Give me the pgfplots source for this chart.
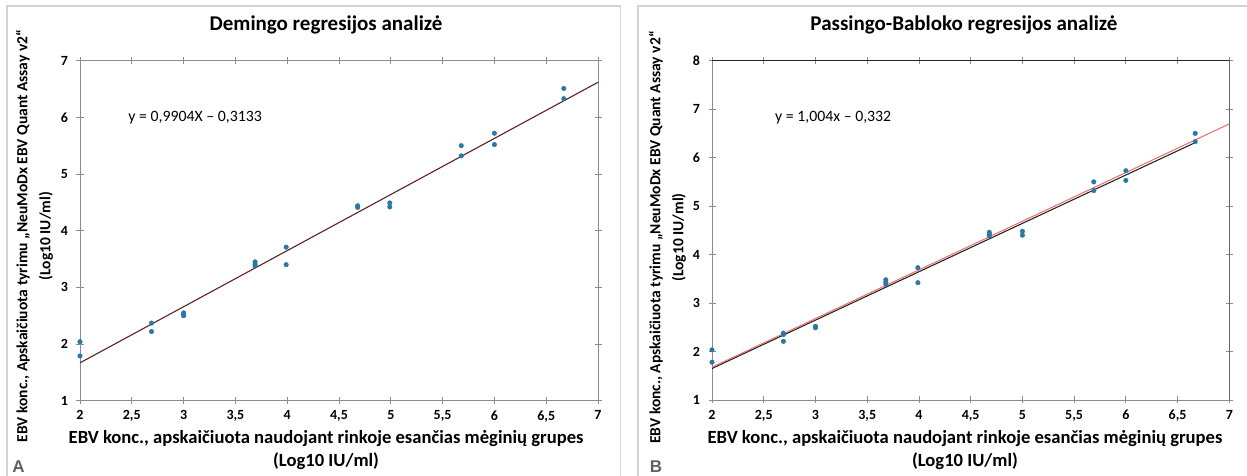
\documentclass[border=0pt]{standalone}
\usepackage{fontspec}
\setmainfont{Carlito}
\newfontfamily\letterfont{Liberation Sans}
\usepackage{pgfplots}
\pgfplotsset{compat=1.18}
\definecolor{dotblue}{RGB}{43,120,165}
\definecolor{deming}{RGB}{95,32,32}
\definecolor{pbred}{RGB}{240,105,105}
\definecolor{axgray}{RGB}{140,140,140}
\definecolor{panelgray}{RGB}{210,210,210}
\pgfplotsset{
  common/.style={
    scale only axis,
    anchor=south west,
    xmin=2, xmax=7,
    xtick={2,2.5,...,7},
    /pgf/number format/assume math mode=true,
    /pgf/number format/use comma,
    tick label style={font=\bfseries\fontsize{14}{14}\selectfont},
    yticklabel style={xshift=-5pt},
    xticklabel style={yshift=-3pt},
    tick align=center,
    major tick length=7pt,
    tick style={axgray, line width=0.8pt},
    axis line style={axgray, line width=0.9pt},
    title style={font=\bfseries\fontsize{21}{24}\selectfont, anchor=center},
    xlabel style={font=\bfseries\fontsize{18.6}{23}\selectfont, align=center, anchor=center},
    ylabel style={font=\bfseries\fontsize{15.5}{23}\selectfont, align=center, anchor=center},
    xlabel={EBV konc., apskaičiuota naudojant rinkoje esančias mėginių grupes\\(Log10 IU/ml)},
    ylabel={EBV konc., Apskaičiuota tyrimu „NeuMoDx EBV Quant Assay v2“\\(Log10 IU/ml)},
  },
  dots/.style={only marks, mark=*, mark size=2.3pt, color=dotblue, mark options={draw=dotblue, fill=dotblue}},
}
\begin{document}
\begin{tikzpicture}
\path[use as bounding box] (0pt,0pt) rectangle (1247pt,476pt);
\draw[panelgray, line width=1.2pt] (7pt,-5pt) -- (7pt,470pt) -- (620.7pt,470pt) -- (620.7pt,-5pt);
\draw[panelgray, line width=1.2pt] (638pt,-5pt) -- (638pt,470pt) -- (1255pt,470pt);
\node[font=\letterfont\bfseries\fontsize{17}{17}\selectfont, text=black!62] at (18.5pt,9.5pt) {A};
\node[font=\letterfont\bfseries\fontsize{17}{17}\selectfont, text=black!62] at (656pt,9.5pt) {B};

% Left panel: Deming
\begin{axis}[common,
  at={(80pt,75.3pt)}, width=518pt, height=340pt,
  ymin=1, ymax=7, ytick={1,2,...,7},
  title={Demingo regresijos analizė},
  title style={at={(axis description cs:0.475,1)}, yshift=29.7pt},
  xlabel style={at={(axis description cs:0.475,0)}, yshift=-49.8pt},
  ylabel style={at={(axis description cs:-0.0878,0.484)}},
]
\addplot[color=deming, line width=1.1pt] coordinates {(2,1.668) (7,6.619)};
\addplot[dots] coordinates {
(2,2.04) (2,1.79)
(2.69,2.37) (2.69,2.22)
(3,2.55) (3,2.52) (3,2.50)
(3.69,3.45) (3.69,3.41) (3.69,3.38)
(3.99,3.71) (3.99,3.40)
(4.68,4.44) (4.68,4.41)
(4.99,4.49) (4.99,4.42)
(5.68,5.50) (5.68,5.32)
(6,5.72) (6,5.52)
(6.67,6.51) (6.67,6.33)
};
\node[anchor=west, font=\fontsize{15.8}{18}\selectfont] at (axis cs:2.434,6.0) {y = 0,9904X – 0,3133};
\end{axis}

% Right panel: Passing-Bablok
\begin{axis}[common,
  at={(712pt,76pt)}, width=517.3pt, height=339.3pt,
  ymin=1, ymax=8, ytick={1,2,...,8},
  title={Passingo-Babloko regresijos analizė},
  title style={at={(axis description cs:0.487,1)}, yshift=29.7pt},
  xlabel style={at={(axis description cs:0.489,0)}, yshift=-49.8pt},
  ylabel style={at={(axis description cs:-0.086,0.479)}},
]
\addplot[color=black!85, line width=1.1pt] coordinates {(2,1.65) (6.67,6.31)};
\addplot[color=pbred, line width=1.0pt] coordinates {(2,1.676) (7,6.696)};
\addplot[dots] coordinates {
(2,2.035) (2,1.78)
(2.69,2.38) (2.69,2.35) (2.69,2.21)
(3,2.52) (3,2.49)
(3.68,3.48) (3.68,3.43) (3.68,3.39)
(3.99,3.73) (3.99,3.42)
(4.68,4.46) (4.68,4.42) (4.68,4.39)
(5,4.48) (5,4.40)
(5.69,5.50) (5.69,5.32)
(6,5.73) (6,5.53)
(6.67,6.50) (6.67,6.33)
};
\draw[black!85, line width=1pt] (rel axis cs:0,1) -- (rel axis cs:1,1) -- (rel axis cs:1,0);
\node[anchor=west, font=\fontsize{15.8}{18}\selectfont] at (axis cs:2.577,6.83) {y = 1,004x – 0,332};
\end{axis}
\end{tikzpicture}
\end{document}
